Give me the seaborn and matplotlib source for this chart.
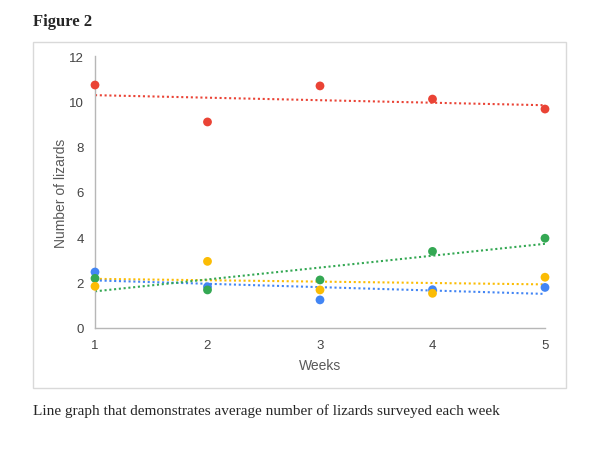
import pandas as pd
import seaborn as sns
import numpy as np
import matplotlib.pyplot as plt
from matplotlib.patches import Rectangle

weeks = [1, 2, 3, 4, 5]
red_vals = [10.72, 9.09, 10.68, 10.1, 9.66]
blue_vals = [2.47, 1.82, 1.24, 1.69, 1.79]
green_vals = [2.19, 1.68, 2.12, 3.38, 3.96]
yellow_vals = [1.84, 2.94, 1.68, 1.53, 2.24]

series = {'red': red_vals, 'blue': blue_vals, 'green': green_vals, 'yellow': yellow_vals}
colors = {'red': '#EA4335', 'blue': '#4285F4', 'green': '#34A853', 'yellow': '#FBBC04'}

rows = []
for name, vals in series.items():
    for w, v in zip(weeks, vals):
        rows.append({'week': w, 'count': v, 'series': name})
data = pd.DataFrame(rows)

sns.set_style("white")
plt.rcParams['font.family'] = ['Liberation Sans', 'DejaVu Sans']

fig = plt.figure(figsize=(6.13, 4.56), dpi=100)
ax = fig.add_axes([95/613, 1-329/456, 450/613, 272/456])

# chart border
fig.patches.append(Rectangle((33/613, 1-389/456), 533/613, 346/456, transform=fig.transFigure,
                             fill=False, edgecolor='#d9d9d9', linewidth=1))

for name in ['yellow', 'blue', 'green', 'red']:
    sub = data[data.series == name]
    sns.regplot(data=sub, x='week', y='count', ax=ax, ci=None, scatter=False, truncate=True,
                line_kws={'color': colors[name], 'linestyle': (0, (1, 1.3)), 'linewidth': 1.5})
sns.scatterplot(data=data, x='week', y='count', hue='series', palette=colors, ax=ax,
                s=40, edgecolor='none', legend=False, zorder=3, clip_on=False)

ax.set_xlim(1, 5)
ax.set_ylim(0, 12)
ax.set_xticks(weeks)
ax.set_yticks(range(0, 13, 2))
ax.tick_params(axis='both', length=0, labelsize=9.5, colors='#444444')
ax.tick_params(axis='x', pad=8)
ax.tick_params(axis='y', pad=8)
for s in ['top', 'right']:
    ax.spines[s].set_visible(False)
for s in ['left', 'bottom']:
    ax.spines[s].set_color('#b7b7b7')
    ax.spines[s].set_linewidth(1)
ax.set_xlabel('Weeks', fontsize=10, color='#595959', labelpad=5)
ax.set_ylabel('Number of lizards', fontsize=10, color='#595959')
ax.yaxis.set_label_coords(-27/450, 0.5)

fig.text(33/613, 1-22/456, 'Figure 2', fontsize=12, fontweight='bold',
         family=['Liberation Serif'], va='center', ha='left')
fig.text(33/613, 1-411/456, 'Line graph that demonstrates average number of lizards surveyed each week',
         fontsize=11, family=['Liberation Serif'], va='center', ha='left')

plt.savefig('out.png', dpi=100)
